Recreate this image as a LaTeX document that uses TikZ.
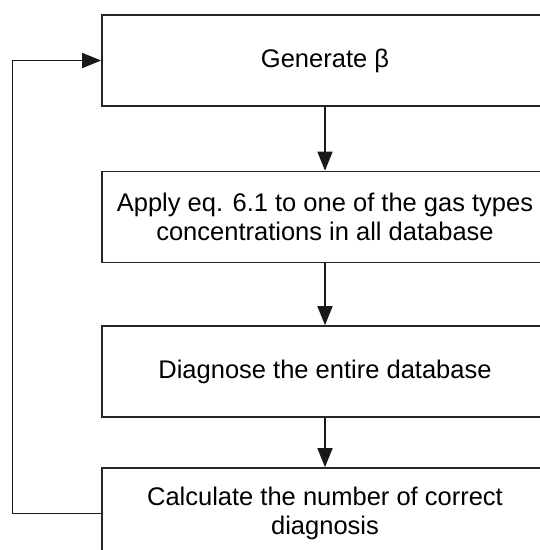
\documentclass[tikz,border=0pt]{standalone}
\usepackage{fontspec}
\setmainfont{Liberation Sans}
\usetikzlibrary{arrows.meta}
\begin{document}
\begin{tikzpicture}[x=1pt,y=-1pt,
  stepbox/.style={draw=black!85, line width=1.7pt, fill=white,
    minimum width=446pt, minimum height=91pt, inner sep=0pt,
    align=center, font=\fontsize{25.5}{29}\selectfont},
  flow/.style={draw=black!90, line width=1.6pt,
    -{Triangle[length=19pt,width=15pt]}}]
  \useasboundingbox (0,0) rectangle (540,550);
  \clip (0,0) rectangle (540,550);
  \fill[white] (0,0) rectangle (540,550);

  % process steps, stacked vertically
  \node[stepbox] (gen)  at (325,60.5) {Generate β};
  \node[stepbox] (app)  at (325,217)  {Apply eq. 6.1 to one of the gas types\\concentrations in all database};
  \node[stepbox] (diag) at (325,371.5){Diagnose the entire database};
  \node[stepbox] (calc) at (325,513.5){Calculate the number of correct\\diagnosis};

  % forward flow
  \draw[flow] (gen)  -- (app);
  \draw[flow] (app)  -- (diag);
  \draw[flow] (diag) -- (calc);

  % feedback loop back to the first step
  \coordinate (loop) at (12.5,300);
  \draw[flow] (calc.west) -- (calc.west -| loop) |- (gen.west);
\end{tikzpicture}
\end{document}
